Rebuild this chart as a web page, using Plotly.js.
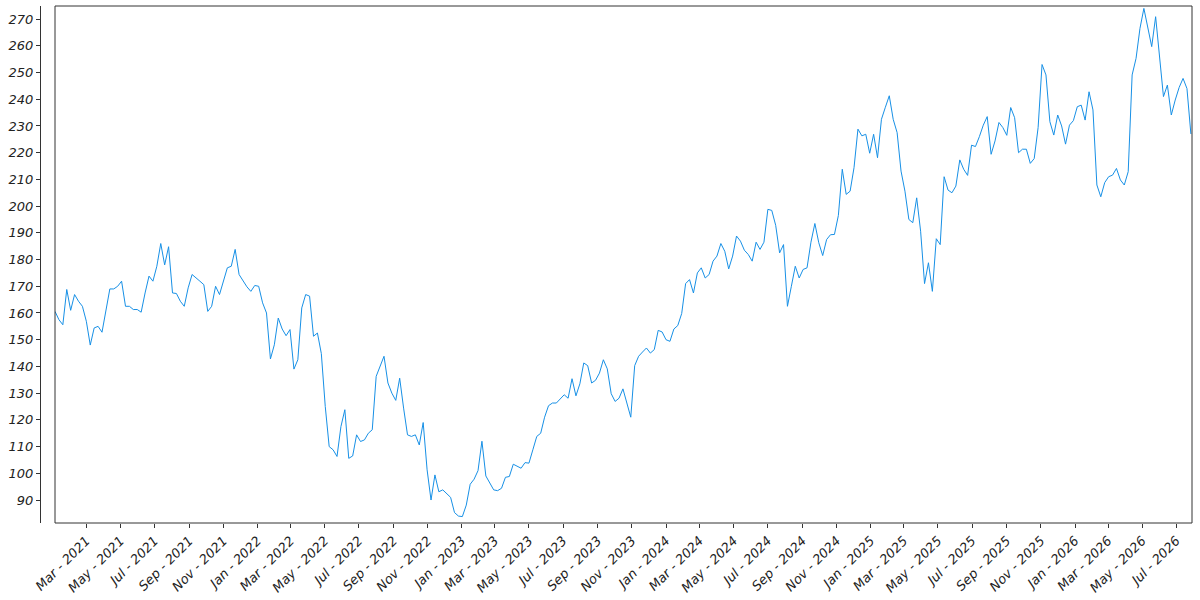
<!DOCTYPE html>
<html>
<head>
<meta charset="utf-8">
<script src="https://cdn.plot.ly/plotly-3.0.1.min.js"></script>
<style>
html,body{margin:0;padding:0;background:#fff;}
#chart{width:1200px;height:600px;}
#chart .xtick text, #chart .ytick text{font-style:italic !important;}
</style>
</head>
<body>
<div id="chart"></div>
<script>
// Weekly closing values, starting the week of 2021-01-04
const startDate = '2021-01-04';
const v2021 = [160.6,157.5,155.6,168.8,161,166.9,164.4,162.5,156.9,148,154.4,155,152.8,160.6,169,169,170,171.9,162.5,162.5,161.3,161.3,160.3,167.5,173.8,171.9,177.5,186,178,184.8,167.5,167.3,164.4,162.5,169.4,174.4,173,171.9,170.6,160.6,162.5,170,166.9,171.9,176.9,177.5,183.8,174.4,171.9,169.8,168.1,170.3];
const v2022 = [170,163.8,160,142.8,148.1,158.1,154,151.5,153.8,139,142.5,161.9,166.9,166.3,151.3,152.5,144.8,125,110,108.8,106.3,117.5,123.8,105.6,106.5,114.4,111.9,112.5,115,116.3,136.3,140,143.8,133.8,130,127.3,135.6,124.4,114.4,113.8,114.4,110.6,119,101.3,90,99.4,93.1,93.8,92.5,91,85.3,84];
const v2023 = [83.8,88.1,95.9,97.8,101,112,99,96.3,93.8,93.5,94.4,98.5,98.8,103.4,102.5,101.9,104,103.8,108.8,113.8,115,121,125.3,126.3,126.3,128,129.4,128.1,135.4,129,133.5,141.3,140.3,133.8,134.8,137.5,142.5,139.1,129.8,126.9,128.1,131.6,126,121,140.3,143.8,145.4,146.9,145,146.3,153.5,152.9];
const v2024 = [150,149.4,154,155.3,159.8,171,172.5,167.5,175,176.9,173.1,174.4,179.4,181.3,186,183.1,176.5,181.3,188.8,186.9,183.5,181.9,179.4,186.5,183.8,186.5,198.8,198.4,192.8,182.5,185.6,162.5,170,177.5,173.1,176.3,176.9,186.5,193.5,186.3,181.5,187.5,189.3,189.4,196.5,213.8,204.4,205.6,214.4,228.8,226.3,226.9];
const v2025 = [219.8,226.9,218.1,232.5,237,241.3,232.5,227.5,213.1,205.6,195,193.8,203.1,190.6,171,178.8,168.1,187.8,185.6,211,206,205,207.5,217.3,213.8,211.5,222.8,222.3,226,230.3,233.5,219.4,224.4,231.3,229.4,226.5,236.9,233.1,220,221.3,221.3,216,217.8,229.4,253,249.1,231.6,226.6,234.1,230,223.2,230.3];
const v2026 = [232,237.2,237.8,232.2,242.8,236,207.9,203.5,208.8,211,211.6,214.1,209.8,207.9,212.9,249.1,255.3,266.5,274,267.1,259.7,270.9,257.2,241,245.3,234.1,239.7,244.4,247.8,244,227];

const values = [].concat(v2021, v2022, v2023, v2024, v2025, v2026);
const t0 = Date.parse(startDate + 'T00:00:00Z');
const dates = values.map((_, i) => new Date(t0 + i * 7 * 86400000).toISOString().slice(0, 10));

const tickFont = {family: 'DejaVu Sans', size: 13, color: '#222', style: 'italic'};
const dom0 = 15 / 1152;

Plotly.newPlot('chart', [{
  x: dates,
  y: values,
  type: 'scatter',
  mode: 'lines',
  line: {color: '#1790e6', width: 1},
  hoverinfo: 'x+y'
}], {
  width: 1200,
  height: 600,
  margin: {l: 40, r: 8, t: 6, b: 77},
  paper_bgcolor: '#fff',
  plot_bgcolor: '#fff',
  showlegend: false,
  xaxis: {
    type: 'date',
    domain: [dom0, 1],
    range: ['2021-01-04', '2026-07-29'],
    tick0: '2021-03-01',
    dtick: 'M2',
    tickformat: '%b - %Y',
    tickangle: -45,
    ticks: 'outside',
    ticklen: 4,
    tickcolor: '#333',
    showgrid: false,
    zeroline: false,
    showline: false,
    tickfont: tickFont
  },
  yaxis: {
    anchor: 'free',
    position: 0,
    range: [81.4, 274.9],
    tick0: 90,
    dtick: 10,
    ticks: 'outside',
    ticklen: 4,
    tickcolor: '#333',
    showline: true,
    linecolor: '#333',
    linewidth: 1,
    showgrid: false,
    zeroline: false,
    tickfont: tickFont
  },
  shapes: [{
    type: 'rect', xref: 'paper', yref: 'paper',
    x0: dom0, x1: 1, y0: 0, y1: 1,
    line: {color: '#333', width: 1}, fillcolor: 'rgba(0,0,0,0)', layer: 'above'
  }]
}, {displayModeBar: false, staticPlot: true});
</script>
</body>
</html>
